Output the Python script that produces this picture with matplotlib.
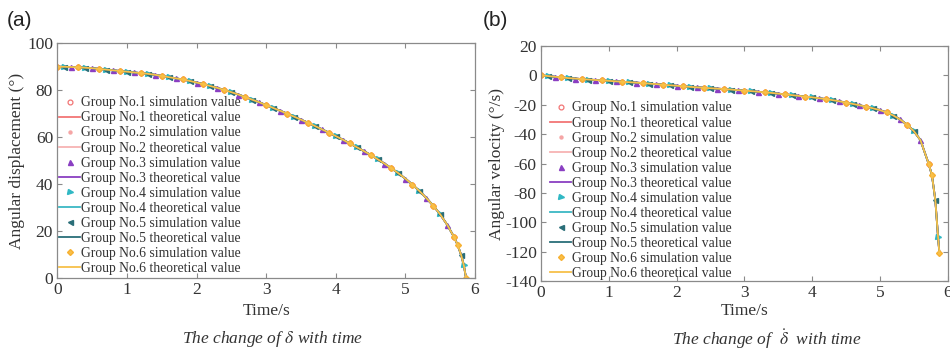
import numpy as np
import matplotlib
matplotlib.use('Agg')
import matplotlib.pyplot as plt

plt.rcParams['font.family'] = ['Liberation Serif', 'DejaVu Serif']
plt.rcParams['mathtext.fontset'] = 'stix'

# ---------------- data ----------------
time_base = [0.0, 0.1, 0.2, 0.3, 0.4, 0.5, 0.6, 0.7, 0.8, 0.9,
             1.0, 1.1, 1.2, 1.3, 1.4, 1.5, 1.6, 1.7, 1.8, 1.9,
             2.0, 2.1, 2.2, 2.3, 2.4, 2.5, 2.6, 2.7, 2.8, 2.9,
             3.0, 3.1, 3.2, 3.3, 3.4, 3.5, 3.6, 3.7, 3.8, 3.9,
             4.0, 4.1, 4.2, 4.3, 4.4, 4.5, 4.6, 4.7, 4.8, 4.9,
             5.0, 5.1, 5.2, 5.3, 5.4, 5.5, 5.6]
time_tail_disp = [5.7, 5.75, 5.8, 5.84, 5.87]
time_tail_vel = [5.72, 5.77, 5.82, 5.86, 5.88]

disp_base = [90.0, 90.0, 89.9, 89.8, 89.6, 89.4, 89.1, 88.8, 88.5, 88.2,
             87.9, 87.6, 87.3, 87.0, 86.6, 86.1, 85.6, 85.1, 84.6, 84.0,
             83.3, 82.6, 81.8, 81.0, 80.1, 79.2, 78.2, 77.1, 76.0, 74.9,
             73.7, 72.5, 71.3, 70.1, 68.8, 67.5, 66.2, 64.8, 63.4, 62.0,
             60.5, 59.0, 57.4, 55.8, 54.2, 52.5, 50.7, 48.8, 46.8, 44.7,
             42.4, 39.9, 37.2, 34.2, 30.9, 27.2, 22.8]
disp_tail = [17.5, 14.2, 10.0, 5.5, 0.3]

vel_base = [0.0, -0.4, -0.9, -1.3, -1.8, -2.1, -2.5, -2.8, -3.1, -3.4,
            -3.7, -4.0, -4.3, -4.6, -4.9, -5.2, -5.6, -5.9, -6.3, -6.7,
            -7.0, -7.4, -7.8, -8.1, -8.4, -8.7, -9.0, -9.3, -9.6, -10.0,
            -10.3, -10.7, -11.1, -11.5, -11.9, -12.4, -12.9, -13.4, -13.9, -14.4,
            -14.9, -15.5, -16.1, -16.8, -17.6, -18.5, -19.4, -20.3, -21.3, -22.4,
            -23.6, -25.2, -27.3, -30.0, -33.5, -37.8, -44.0]
vel_tail = [-60.0, -68.0, -85.0, -110.0, -121.0]

group_names = ['Group No.1', 'Group No.2', 'Group No.3',
               'Group No.4', 'Group No.5', 'Group No.6']

# sample indices (into the curve table) at which each group's simulation marker is drawn
sim_index = [
    list(range(0, 58, 3)),
    list(range(0, 58, 3)),
    list(range(2, 57, 3)),
    list(range(1, 56, 3)) + [60],
    list(range(1, 56, 3)) + [59],
    list(range(0, 58, 3)) + [58, 61],
]

# ---------------- styles ----------------
line_colors = ['#f27575', '#f7b3b3', '#8a3fc2', '#3ab8c4', '#2a6e78', '#f7c04a']
marker_styles = [
    dict(marker='o', ms=3.5, mfc='none', mec='#f27575', mew=0.9),
    dict(marker='.', ms=4.3, mfc='#f5a5a5', mec='#f5a5a5'),
    dict(marker='^', ms=3.6, mfc='#8a3fc2', mec='#8a3fc2'),
    dict(marker='>', ms=3.6, mfc='#30b8c4', mec='#30b8c4'),
    dict(marker='<', ms=3.6, mfc='#2a6e78', mec='#2a6e78'),
    dict(marker='D', ms=3.0, mfc='#f7c04a', mec='#f7b030'),
]

text_col = '#333333'
spine_col = '#8a8a8a'

fig = plt.figure(figsize=(9.5, 3.49), dpi=100)
ax1 = fig.add_axes([0.0603, 0.2026, 0.5 - 0.0603, 0.876 - 0.2026])
ax2 = fig.add_axes([0.5695, 0.195, 0.9974 - 0.5695, 0.868 - 0.195])


def draw(ax, t, y):
    t = np.asarray(t)
    y = np.asarray(y)
    for k in range(6):
        idx = sim_index[k]
        ax.plot(t[idx], y[idx], linestyle='none',
                label=group_names[k] + ' simulation value', **marker_styles[k])
        ax.plot(t, y, color=line_colors[k], lw=1.3,
                label=group_names[k] + ' theoretical value')


def style(ax):
    ax.tick_params(direction='in', top=True, right=True, length=3.5,
                   width=0.8, colors=spine_col, labelcolor=text_col,
                   labelsize=12.5, pad=3)
    for s in ax.spines.values():
        s.set_color(spine_col)
        s.set_linewidth(0.9)


draw(ax1, time_base + time_tail_disp, disp_base + disp_tail)
draw(ax2, time_base + time_tail_vel, vel_base + vel_tail)

ax1.set_xlim(0, 6)
ax1.set_ylim(0, 100)
ax1.set_xticks([0, 1, 2, 3, 4, 5, 6])
ax1.set_yticks([0, 20, 40, 60, 80, 100])
ax2.set_xlim(0, 6)
ax2.set_ylim(-140, 20)
ax2.set_xticks([0, 1, 2, 3, 4, 5, 6])
ax2.set_yticks([-140, -120, -100, -80, -60, -40, -20, 0, 20])
ax2.set_yticklabels(['-140', '-120', '-100', '-80', '-60', '-40', '-20', '0', '20'])

for ax in (ax1, ax2):
    style(ax)

ax1.set_xlabel('Time/s', fontsize=12.5, color=text_col)
ax1.set_ylabel('Angular displacement (°)', fontsize=12.5, color=text_col)
ax1.xaxis.set_label_coords(0.5, -0.105)
ax1.yaxis.set_label_coords(-0.077, 0.5)
ax2.set_xlabel('Time/s', fontsize=12.5, color=text_col)
ax2.set_ylabel('Angular velocity (°/s)', fontsize=12.5, color=text_col)
ax2.xaxis.set_label_coords(0.5, -0.093)
ax2.yaxis.set_label_coords(-0.0886, 0.5)

leg_kw = dict(frameon=False, fontsize=9.8, handlelength=1.55, handletextpad=0.05,
              labelspacing=0.15, borderpad=0, borderaxespad=0, loc='upper left',
              labelcolor=text_col, markerscale=1.0)
ax1.legend(bbox_to_anchor=(0.004, 0.774), **leg_kw)
ax2.legend(bbox_to_anchor=(0.022, 0.764), **leg_kw)

fig.text(0.007, 0.94, '(a)', fontsize=15, family='Liberation Sans', color='#222222', va='center')
fig.text(0.508, 0.94, '(b)', fontsize=15, family='Liberation Sans', color='#222222', va='center')

fig.text(272.5 / 950, 1 - 339 / 349, r'The change of $\delta$ with time',
         fontsize=12.5, style='italic', ha='center', va='center', color=text_col)
fig.text(767 / 950, 1 - 339 / 349, r'The change of  $\dot{\delta}$  with time',
         fontsize=12.5, style='italic', ha='center', va='center', color=text_col)

fig.savefig('out.png', dpi=100)
